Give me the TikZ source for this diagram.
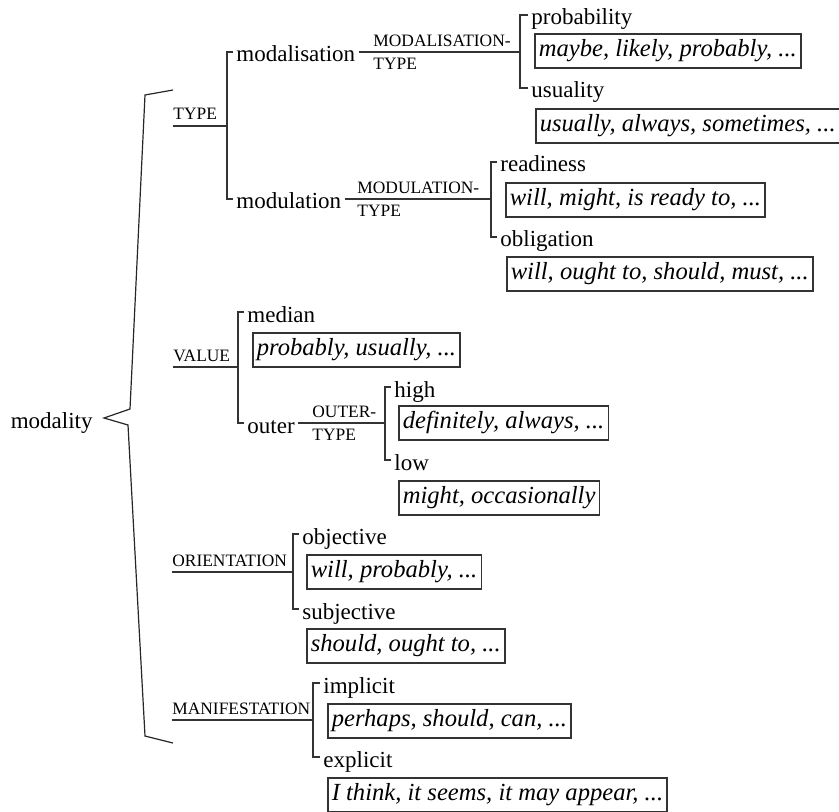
\documentclass[tikz,border=0pt]{standalone}
\usepackage{fontspec}
\setmainfont{Liberation Serif}
\usetikzlibrary{positioning}

\begin{document}
\begin{tikzpicture}[
x=0.5pt, y=-0.5pt,
opcao/.style={
anchor=west,
inner xsep=1.5pt,
inner ysep=0pt,
text height=10pt,
text depth=0pt,
font=\fontsize{11.5}{13}\selectfont
},
sistema/.style={
anchor=south west,
inner xsep=0pt,
inner ysep=2.8pt,
text depth=0pt,
font=\fontsize{8.7}{10}\selectfont
},
fracao/.style={inner xsep=0pt, inner ysep=2.7pt, text depth=0pt, font=\fontsize{8.7}{10}\selectfont},
exemplo/.style={
draw=black!80,
line width=0.8pt,
anchor=north west,
inner xsep=2pt,
inner ysep=0pt,
minimum height=17pt,
font=\fontsize{12.3}{14}\selectfont\itshape
},
linha/.style={line width=0.8pt, draw=black!80},
chave/.style={line width=0.6pt, draw=black!85}
]
\useasboundingbox (0,0) rectangle (839,812);

\node[opcao, anchor=east, inner xsep=5.5pt] (modality) at (104,418) {modality};
\draw[chave] (173,90) -- (145,95) -- (130,409) -- (modality.east) -- (128,425) -- (145,736) -- (173,743);

% TYPE
\node[sistema] (type) at (173,126) {TYPE};
\coordinate (jtype) at (227,126);
\node[opcao] (modalisation) at (233,52) {modalisation};
\node[opcao] (modulation) at (233,199) {modulation};
\draw[linha] (type.south west) -- (jtype);
\draw[linha] (modalisation.west) -| (jtype) |- (modulation.west);

\node[fracao, anchor=south west] (modaltop) at (373,52) {MODALISATION-};
\node[fracao, anchor=north west] (modalbot) at (373,52) {TYPE};
\coordinate (jmodal) at (520,52);
\node[opcao] (probability) at (528,15) {probability};
\node[opcao] (usuality) at (528,88) {usuality};
\draw[linha] (modalisation.east) -- (jmodal);
\draw[linha] (probability.west) -| (jmodal) |- (usuality.west);
\node[exemplo] (exprob) at (534,33) {maybe, likely, probably, ...};
\node[exemplo] (exusual) at (535,108) {usually, always, sometimes, ...};

\node[fracao, anchor=south west] (modultop) at (357,199) {MODULATION-};
\node[fracao, anchor=north west] (modulbot) at (357,199) {TYPE};
\coordinate (jmodul) at (491,199);
\node[opcao] (readiness) at (497,162) {readiness};
\node[opcao] (obligation) at (497,237) {obligation};
\draw[linha] (modulation.east) -- (jmodul);
\draw[linha] (readiness.west) -| (jmodul) |- (obligation.west);
\node[exemplo] (exready) at (505,182) {will, might, is ready to, ...};
\node[exemplo] (exoblig) at (506,256) {will, ought to, should, must, ...};

% VALUE
\node[sistema] (value) at (173,367) {VALUE};
\coordinate (jvalue) at (238,367);
\node[opcao] (median) at (244,312) {median};
\node[opcao] (outer) at (244,423) {outer};
\draw[linha] (value.south west) -- (jvalue);
\draw[linha] (median.west) -| (jvalue) |- (outer.west);
\node[exemplo] (exmedian) at (252,332) {probably, usually, ...};

\node[fracao, anchor=south west] (outertop) at (312,423) {OUTER-};
\node[fracao, anchor=north west] (outerbot) at (312,423) {TYPE};
\coordinate (jouter) at (385,423);
\node[opcao] (high) at (391,387) {high};
\node[opcao] (low) at (391,460) {low};
\draw[linha] (outer.east) -- (jouter);
\draw[linha] (high.west) -| (jouter) |- (low.west);
\node[exemplo] (exhigh) at (398,405) {definitely, always, ...};
\node[exemplo] (exlow) at (398,480) {might, occasionally};

% ORIENTATION
\node[sistema] (orientation) at (172,572) {ORIENTATION};
\coordinate (jorient) at (293,572);
\node[opcao] (objective) at (299,534) {objective};
\node[opcao] (subjective) at (299,609) {subjective};
\draw[linha] (orientation.south west) -- (jorient);
\draw[linha] (objective.west) -| (jorient) |- (subjective.west);
\node[exemplo] (exobj) at (306,554) {will, probably, ...};
\node[exemplo] (exsubj) at (306,628) {should, ought to, ...};

% MANIFESTATION
\node[sistema] (manifestation) at (172,720) {MANIFESTATION};
\coordinate (jmanif) at (313,720);
\node[opcao] (implicit) at (320,683) {implicit};
\node[opcao] (explicit) at (320,757) {explicit};
\draw[linha] (manifestation.south west) -- (jmanif);
\draw[linha] (implicit.west) -| (jmanif) |- (explicit.west);
\node[exemplo] (eximpl) at (327,703) {perhaps, should, can, ...};
\node[exemplo] (exexpl) at (327,777) {I think, it seems, it may appear, ...};
\end{tikzpicture}
\end{document}
